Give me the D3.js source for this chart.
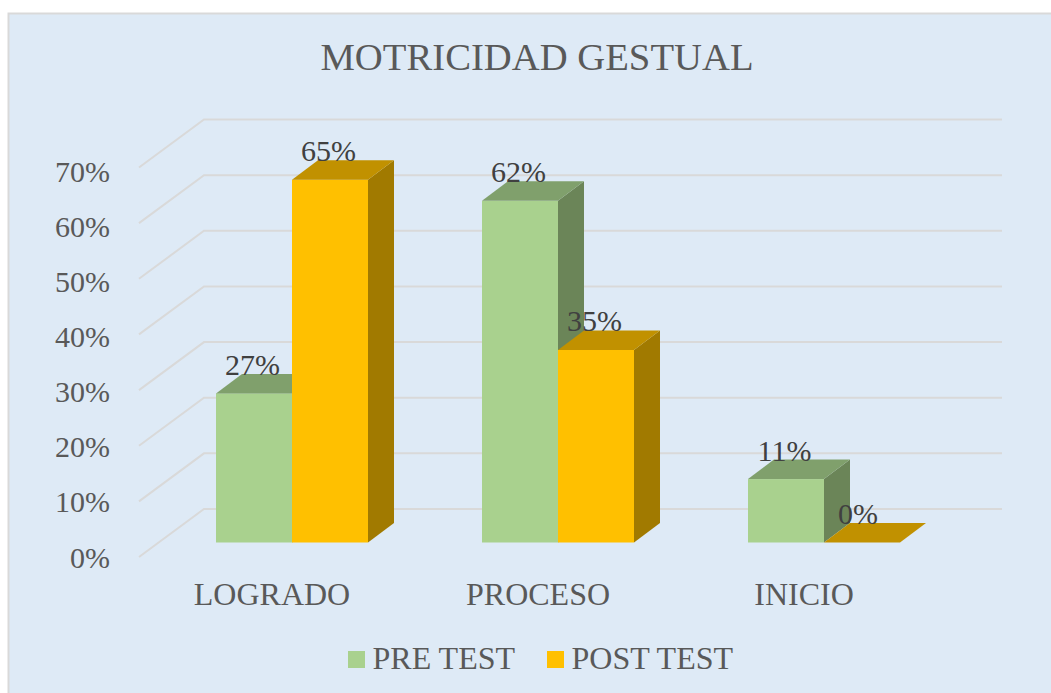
<!DOCTYPE html>
<html><head><meta charset="utf-8">
<style>html,body{margin:0;padding:0;background:#fff;overflow:hidden}svg{display:block}text{font-family:"Liberation Serif",serif}</style>
<script src="https://cdn.jsdelivr.net/npm/d3@7/dist/d3.min.js"></script></head>
<body><svg id="c" width="1051" height="693"></svg>
<script>
const categories = ["LOGRADO", "PROCESO", "INICIO"];
const seriesNames = ["PRE TEST", "POST TEST"];
const preTest = [26.8, 61.4, 11.4];
const postTest = [65.2, 34.6, 0];
const preLabels = ["27%", "62%", "11%"];
const postLabels = ["65%", "35%", "0%"];
const tickValues = [0, 10, 20, 30, 40, 50, 60, 70];
const titleText = "MOTRICIDAD GESTUAL";
const fronts = ["#A9D18E", "#FFC000"];
const tops = ["#80A06C", "#C19100"];
const sides = ["#6B8558", "#A17A00"];

const svg = d3.select("#c");
svg.append("rect").attr("x", 8.5).attr("y", 13.5).attr("width", 1060).attr("height", 700)
  .attr("fill", "#DEEAF6").attr("stroke", "#D9D9D9").attr("stroke-width", 2);
svg.append("text").attr("x", 537).attr("y", 70).attr("text-anchor", "middle")
  .attr("font-size", 38.7).attr("fill", "#595959").text(titleText);

// y scale on the back wall of the 3-D box
const y = d3.scaleLinear().domain([0, 70]).range([509, 119.5]);
const depthX = 65, depthY = 48;
const wallRight = 1002;
const grid = svg.append("g").attr("fill", "none").attr("stroke", "#D9D9D9").attr("stroke-width", 2);
grid.selectAll("path").data(tickValues).join("path")
  .attr("d", d => `M${204 - depthX},${y(d) + depthY}L204,${y(d)}L${wallRight},${y(d)}`);

// axes on the front plane
const yTicks = y.copy().range([557.4, 171.4]);
const xFront = d3.scaleBand().domain(categories).range([139, 937]).paddingInner(3 / 7).paddingOuter(3 / 14);
const axisY = svg.append("g").attr("transform", "translate(118,0)")
  .call(d3.axisLeft(yTicks).tickValues(tickValues).tickFormat(d => d + "%").tickSize(0).tickPadding(8));
const axisX = svg.append("g").attr("transform", "translate(0,582)")
  .call(d3.axisBottom(xFront).tickSize(0).tickPadding(0));
[axisY, axisX].forEach(a => {
  a.select(".domain").remove();
  a.selectAll("text").attr("fill", "#595959").style("font-family", '"Liberation Serif",serif');
});
axisY.selectAll("text").attr("font-size", 30);
axisX.selectAll("text").attr("font-size", 32);

// bars
const barOffX = 20, barOffY = 33.5, barDX = 26, barDY = 19.5;
const xOuter = xFront.copy().range([139 + barOffX, 937 + barOffX]);
const xInner = d3.scaleBand().domain([0, 1]).range([0, xOuter.bandwidth()]);
const series = [preTest, postTest];
const seriesLabels = [preLabels, postLabels];
const bars = svg.append("g");
const labels = [];
categories.forEach((cat, i) => {
  series.forEach((vals, s) => {
    const x0 = xOuter(cat) + xInner(s), x1 = x0 + xInner.bandwidth();
    const yt = y(vals[i]) + barOffY, yb = y(0) + barOffY;
    const g = bars.append("g");
    if (vals[i] > 0) {
      g.append("path").attr("d", `M${x1},${yt}L${x1 + barDX},${yt - barDY}L${x1 + barDX},${yb - barDY}L${x1},${yb}Z`).attr("fill", sides[s]);
      g.append("rect").attr("x", x0).attr("y", yt).attr("width", x1 - x0).attr("height", yb - yt).attr("fill", fronts[s]);
    }
    g.append("path").attr("d", `M${x0},${yt}L${x0 + barDX},${yt - barDY}L${x1 + barDX},${yt - barDY}L${x1},${yt}Z`).attr("fill", tops[s]);
    const nudge = vals[i] === 0 ? -4 : -1.5;
    labels.push({ x: (x0 + x1) / 2 + nudge, y: yt - 18.5, t: seriesLabels[s][i] });
  });
});
svg.append("g").selectAll("text").data(labels).join("text")
  .attr("x", d => d.x).attr("y", d => d.y).attr("text-anchor", "middle")
  .attr("font-size", 30).attr("fill", "#404040").text(d => d.t);

// legend
const legend = svg.append("g");
const legendX = d3.scaleOrdinal().domain(seriesNames).range([348, 547]);
seriesNames.forEach((n, s) => {
  const lx = legendX(n);
  legend.append("rect").attr("x", lx).attr("y", 651).attr("width", 17).attr("height", 17).attr("fill", fronts[s]);
  legend.append("text").attr("x", lx + 24.5).attr("y", 669).attr("font-size", 32).attr("fill", "#595959").text(n);
});
</script></body></html>
